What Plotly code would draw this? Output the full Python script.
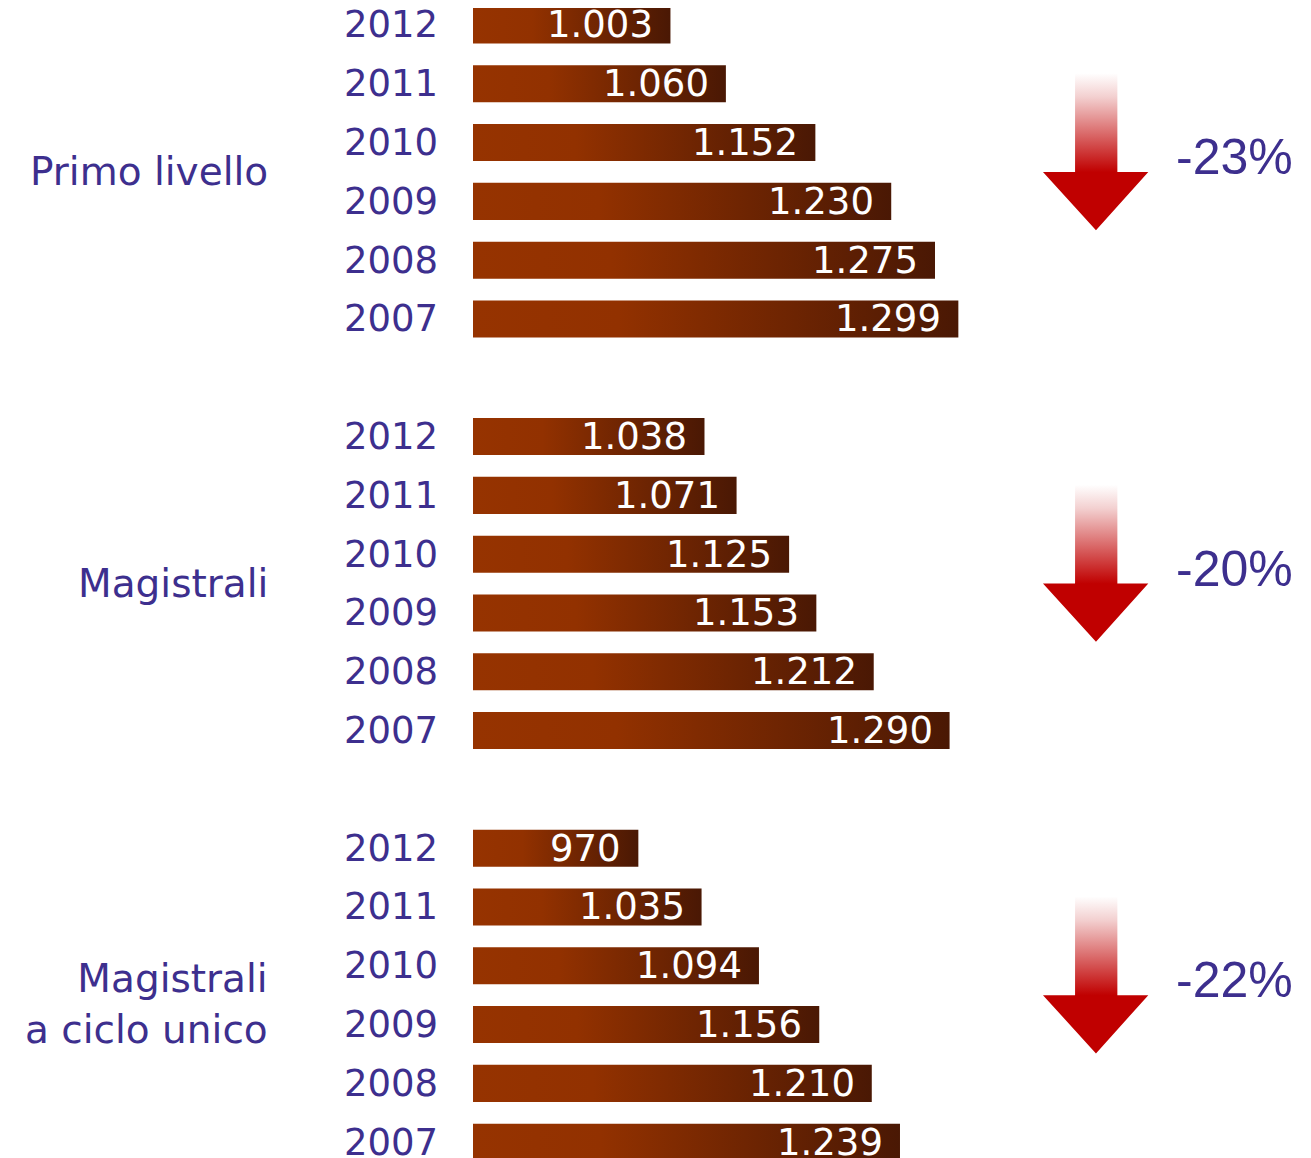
import plotly.graph_objects as go

# ---- data ----
years = ["2012", "2011", "2010", "2009", "2008", "2007"]
group_names = ["Primo livello", "Magistrali", "Magistrali<br>a ciclo unico"]
primo_livello = [1003, 1060, 1152, 1230, 1275, 1299]
magistrali = [1038, 1071, 1125, 1153, 1212, 1290]
ciclo_unico = [970, 1035, 1094, 1156, 1210, 1239]
pct_change = ["-23%", "-20%", "-22%"]

series = [primo_livello, magistrali, ciclo_unico]

# ---- style ----
PURPLE = "#3d2f8e"
BAR_SCALE = [[0, "#963300"], [0.3, "#923100"], [1, "#4a1804"]]
ARROW_SCALE = [[0, "rgba(255,255,255,1)"], [0.15, "#f3d0d0"], [0.63, "#c00000"], [1, "#c00000"]]
X_BASE = 800
X_MAX = 1669.8
HALF_H = 0.315
GROUP_STEP = 7

fig = go.Figure()
annotations = []

for g, vals in enumerate(series):
    start = g * GROUP_STEP
    for k, (yr, v) in enumerate(zip(years, vals)):
        yi = start + k
        fig.add_trace(go.Scatter(
            x=[X_BASE, v, v, X_BASE, X_BASE],
            y=[yi - HALF_H, yi - HALF_H, yi + HALF_H, yi + HALF_H, yi - HALF_H],
            mode="lines", fill="toself", line=dict(width=0),
            fillgradient=dict(type="horizontal", colorscale=BAR_SCALE),
            hoverinfo="skip", showlegend=False,
        ))
        # value label inside bar
        annotations.append(dict(
            x=v, y=yi, xref="x", yref="y", xanchor="right", yanchor="middle",
            xshift=-15, text=f"{v:,}".replace(",", "."), showarrow=False,
            font=dict(family="DejaVu Sans", size=37, color="white"),
        ))
        # year label
        annotations.append(dict(
            x=-0.0390, y=yi, xref="paper", yref="y", xanchor="right", yanchor="middle",
            text=yr, showarrow=False,
            font=dict(family="DejaVu Sans", size=37, color=PURPLE),
        ))
    # group label
    annotations.append(dict(
        x=-0.2400, y=start + (2.5 if g < 2 else 2.65), xref="paper", yref="y",
        xanchor="right", yanchor="middle", align="right",
        text=group_names[g], showarrow=False,
        font=dict(family="DejaVu Sans", size=39, color=PURPLE),
    ))
    # arrow decoration
    top, neck, tip = start + 0.82, start + 2.5, start + 3.49
    sl, sr, hl, hr, hc = 1419, 1462.5, 1386, 1494.3, 1440.5
    fig.add_trace(go.Scatter(
        x=[sl, sr, sr, hr, hc, hl, sl, sl],
        y=[top, top, neck, neck, tip, neck, neck, top],
        mode="lines", fill="toself", line=dict(width=0),
        fillgradient=dict(type="vertical", colorscale=ARROW_SCALE, start=top, stop=tip),
        hoverinfo="skip", showlegend=False,
    ))
    annotations.append(dict(
        x=1521, y=start + 2.25, xref="x", yref="y", xanchor="left", yanchor="middle",
        text=pct_change[g], showarrow=False,
        font=dict(family="Liberation Sans", size=50, color=PURPLE),
    ))

fig.update_layout(
    width=1311, height=1158,
    margin=dict(l=465, r=0, t=0, b=0),
    paper_bgcolor="white", plot_bgcolor="white",
    showlegend=False,
    annotations=annotations,
    xaxis=dict(range=[X_BASE, X_MAX], visible=False, fixedrange=True),
    yaxis=dict(range=[19.405, -0.289], visible=False, fixedrange=True),
)

fig.write_html("out.html")
